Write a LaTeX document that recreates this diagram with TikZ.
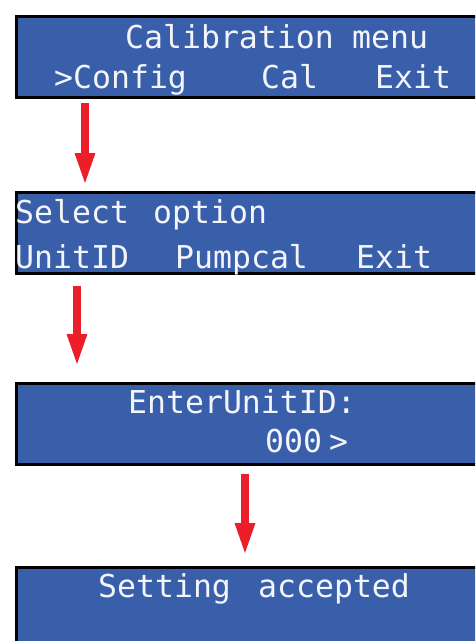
\documentclass[tikz,border=0pt]{standalone}
\usepackage{fontspec}
\usepackage{tikz}
\usetikzlibrary{arrows.meta}
\usetikzlibrary{positioning}
\newfontfamily\lcdfont{DejaVu Sans Mono}
\definecolor{lcdblue}{RGB}{57,94,170}
\definecolor{flowred}{RGB}{236,30,42}

\begin{document}
\begin{tikzpicture}[x=1pt, y=-1pt,
    lcd/.style={rectangle,draw=black,line width=3pt,fill=lcdblue,anchor=north west,minimum width=480pt,inner sep=0pt},
    lcdtext/.style={anchor=base west,inner sep=0pt,text=white!94!lcdblue,font=\lcdfont\fontsize{31.5}{31.5}\selectfont},
    flow/.style={draw=flowred,line width=8pt,-{Triangle[length=33pt,width=18pt]}}]
    \clip (0,0) rectangle (475,641);
    % screens
    \node[lcd,minimum height=81pt] (scr1) at (14.5,14.5) {};
    \node[lcd,minimum height=81pt] (scr2) at (14.5,190.5) {};
    \node[lcd,minimum height=81pt] (scr3) at (14.5,381.5) {};
    \node[lcd,minimum height=100pt] (scr4) at (14.5,565.5) {};
    % texts
    \node[lcdtext] (calib) at (125,48) {Calibration};
    \node[lcdtext] (menu) at (352,48) {menu};
    \node[lcdtext] (config) at (54,88) {>Config};
    \node[lcdtext] (cal) at (261,88) {Cal};
    \node[lcdtext] (exit1) at (375,88) {Exit};
    \node[lcdtext] (select) at (15,223) {Select};
    \node[lcdtext] (option) at (153,223) {option};
    \node[lcdtext] (unitid) at (15,268) {UnitID};
    \node[lcdtext] (pumpcal) at (175,268) {Pumpcal};
    \node[lcdtext] (exit2) at (356,268) {Exit};
    \node[lcdtext] (enter) at (128,413) {EnterUnitID:};
    \node[lcdtext] (zeros) at (265,452) {000};
    \node[lcdtext] (more) at (329,452) {>};
    \node[lcdtext] (setting) at (98,597) {Setting};
    \node[lcdtext] (accepted) at (258,597) {accepted};
    % arrows
    \coordinate (a1) at (85,103);
    \coordinate (b1) at (85,186);
    \coordinate (a2) at (77,286);
    \coordinate (b2) at (77,367);
    \coordinate (a3) at (245,474);
    \coordinate (b3) at (245,556);
    \draw[flow] (a1) -- (b1);
    \draw[flow] (a2) -- (b2);
    \draw[flow] (a3) -- (b3);
\end{tikzpicture}
\end{document}
